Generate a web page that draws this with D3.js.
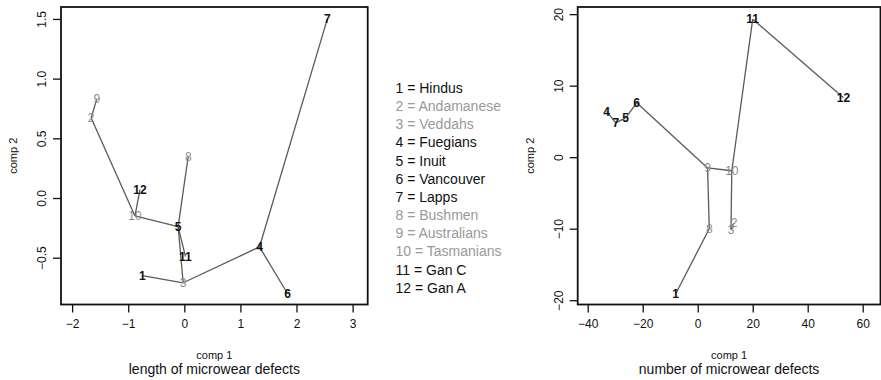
<!DOCTYPE html>
<html>
<head>
<meta charset="utf-8">
<script src="https://cdn.jsdelivr.net/npm/d3@7"></script>
<style>
  body { margin: 0; background: #fff; }
  text { font-family: "Liberation Sans", Arial, Helvetica, sans-serif; }
</style>
</head>
<body>
<div id="chart"></div>
<script>

// group numbers and their names (legend)
var groupIds = [1, 2, 3, 4, 5, 6, 7, 8, 9, 10, 11, 12];
var groupNames = ["Hindus", "Andamanese", "Veddahs", "Fuegians", "Inuit", "Vancouver",
  "Lapps", "Bushmen", "Australians", "Tasmanians", "Gan C", "Gan A"];
var greyGroups = [2, 3, 8, 9, 10];

// length of microwear defects: component scores
var lengthComp1 = [-0.75, -1.66, -0.02, 1.34, -0.11, 1.84, 2.55, 0.07, -1.56, -0.88, 0.02, -0.79];
var lengthComp2 = [-0.65, 0.67, -0.71, -0.41, -0.24, -0.80, 1.50, 0.35, 0.83, -0.15, -0.49, 0.07];
var lengthEdges = [[9, 2], [2, 10], [10, 12], [10, 5], [5, 8], [5, 11], [5, 3], [3, 1], [3, 4], [4, 7], [4, 6]];
var lengthTicksX = [-2, -1, 0, 1, 2, 3];
var lengthTicksY = [-0.5, 0, 0.5, 1, 1.5];

// number of microwear defects: component scores
var numberComp1 = [-8.0, 13.2, 12.1, -33.1, -26.2, -22.2, -29.8, 4.2, 3.6, 12.4, 20.0, 53.0];
var numberComp2 = [-19.1, -9.2, -10.1, 6.4, 5.5, 7.6, 4.8, -10.0, -1.5, -1.9, 19.3, 8.3];
var numberEdges = [[4, 7], [7, 5], [5, 6], [6, 9], [9, 10], [9, 8], [8, 1], [10, 11], [11, 12], [10, 3], [3, 2]];
var numberTicksX = [-40, -20, 0, 20, 40, 60];
var numberTicksY = [-20, -10, 0, 10, 20];

const WIDTH = 881;
const HEIGHT = 380;
const TOP = 7;
const BOTTOM = 304.5;
const DARK = "#111";
const GREY = "#8c8c8c";
const LINE = "#5a5a5a";

var translate = function(x, y){
  return "translate(" + x + "," + y + ")";
};

var isGrey = function(id){
  return greyGroups.indexOf(id) >= 0;
};

var svg = d3.select("#chart").append("svg")
  .attr("width", WIDTH)
  .attr("height", HEIGHT);

var drawPanel = function(opts){
  var xScale = d3.scaleLinear().domain(opts.xDomain).range([opts.left, opts.right]);
  var yScale = d3.scaleLinear().domain(opts.yDomain).range([BOTTOM, TOP]);

  var xAxis = d3.axisBottom(xScale).tickValues(opts.ticksX).tickSize(8).tickPadding(7)
    .tickFormat(d3.format("d"));
  var yAxis = d3.axisLeft(yScale).tickValues(opts.ticksY).tickSize(8)
    .tickFormat(d3.format(opts.yFormat));

  var gx = svg.append("g")
    .attr("transform", translate(0, BOTTOM))
    .call(xAxis);
  gx.select(".domain").remove();
  gx.selectAll("line").attr("stroke", DARK).attr("stroke-width", 1.3);
  gx.selectAll("text").attr("font-size", 12).attr("fill", DARK);

  var gy = svg.append("g")
    .attr("transform", translate(opts.left, 0))
    .call(yAxis);
  gy.select(".domain").remove();
  gy.selectAll("line").attr("stroke", DARK).attr("stroke-width", 1.3);
  gy.selectAll("text")
    .attr("font-size", 12).attr("fill", DARK)
    .attr("x", 0).attr("y", -15).attr("dy", 0)
    .attr("text-anchor", "middle")
    .attr("transform", "rotate(-90)");

  // plot box
  svg.append("rect")
    .attr("x", opts.left).attr("y", TOP)
    .attr("width", opts.right - opts.left).attr("height", BOTTOM - TOP)
    .attr("fill", "none").attr("stroke", DARK).attr("stroke-width", 1.8);

  var px = function(id){ return xScale(opts.xs[id - 1]); };
  var py = function(id){ return yScale(opts.ys[id - 1]); };

  svg.append("g").selectAll("line")
    .data(opts.edges)
    .enter().append("line")
    .attr("x1", function(d){ return px(d[0]); })
    .attr("y1", function(d){ return py(d[0]); })
    .attr("x2", function(d){ return px(d[1]); })
    .attr("y2", function(d){ return py(d[1]); })
    .attr("stroke", LINE).attr("stroke-width", 1.3);

  svg.append("g").selectAll("text")
    .data(groupIds)
    .enter().append("text")
    .attr("x", px).attr("y", py)
    .attr("dy", "0.36em")
    .attr("text-anchor", "middle")
    .attr("font-size", 12)
    .attr("font-weight", function(d){ return isGrey(d) ? "normal" : "bold"; })
    .attr("fill", function(d){ return isGrey(d) ? GREY : DARK; })
    .text(function(d){ return d; });

  var mid = (opts.left + opts.right) / 2;
  svg.append("text")
    .attr("x", mid).attr("y", 359)
    .attr("text-anchor", "middle").attr("font-size", 11).attr("fill", DARK)
    .text("comp 1");
  svg.append("text")
    .attr("x", mid).attr("y", 374)
    .attr("text-anchor", "middle").attr("font-size", 14).attr("fill", DARK)
    .text(opts.title);
  svg.append("text")
    .attr("transform", translate(opts.left - 44, (TOP + BOTTOM) / 2) + " rotate(-90)")
    .attr("text-anchor", "middle").attr("font-size", 11).attr("fill", DARK)
    .text("comp 2");
};

drawPanel({
  left: 61, right: 367.7,
  xDomain: [-2.198, 3.269], yDomain: [-0.892, 1.600],
  ticksX: lengthTicksX, ticksY: lengthTicksY, yFormat: ".1f",
  xs: lengthComp1, ys: lengthComp2, edges: lengthEdges,
  title: "length of microwear defects"
});

drawPanel({
  left: 577.7, right: 880.5,
  xDomain: [-43.64, 66.47], yDomain: [-20.6, 21.0],
  ticksX: numberTicksX, ticksY: numberTicksY, yFormat: "d",
  xs: numberComp1, ys: numberComp2, edges: numberEdges,
  title: "number of microwear defects"
});

// legend in the middle
svg.append("g").selectAll("text")
  .data(groupIds)
  .enter().append("text")
  .attr("x", 395.5)
  .attr("y", function(d, i){ return 88 + i * 18.15; })
  .attr("dy", "0.36em")
  .attr("font-size", 14)
  .attr("fill", function(d){ return isGrey(d) ? "#999" : DARK; })
  .text(function(d, i){ return d + " = " + groupNames[i]; });

</script>
</body>
</html>
